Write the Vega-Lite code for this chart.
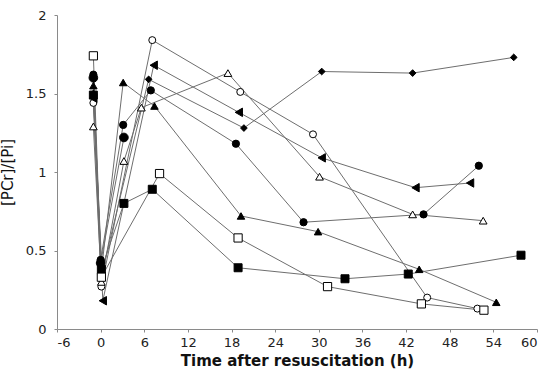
{
  "$schema": "https://vega.github.io/schema/vega-lite/v6.json",
  "autosize": "none",
  "padding": {"left": 57, "top": 15, "right": 10, "bottom": 46},
  "width": 480,
  "height": 314,
  "background": "white",
  "config": {
    "view": {"stroke": null},
    "axis": {
      "grid": false,
      "domainColor": "#8a8a8a",
      "tickColor": "#8a8a8a",
      "labelColor": "#222",
      "labelFont": "DejaVu Sans",
      "labelFontSize": 13,
      "titleFont": "DejaVu Sans",
      "titleColor": "#111",
      "titleFontSize": 15
    }
  },
  "data": {
    "values": [
      {"series": "S1", "t": -1.0, "v": 1.50}, {"series": "S1", "t": 0.2, "v": 0.36}, {"series": "S1", "t": 6.6, "v": 1.59}, {"series": "S1", "t": 19.7, "v": 1.28}, {"series": "S1", "t": 30.4, "v": 1.64}, {"series": "S1", "t": 42.9, "v": 1.63}, {"series": "S1", "t": 56.8, "v": 1.73},
      {"series": "S2", "t": -1.0, "v": 1.44}, {"series": "S2", "t": 0.1, "v": 0.27}, {"series": "S2", "t": 7.1, "v": 1.84}, {"series": "S2", "t": 19.2, "v": 1.51}, {"series": "S2", "t": 29.2, "v": 1.24}, {"series": "S2", "t": 44.9, "v": 0.20}, {"series": "S2", "t": 51.8, "v": 0.13},
      {"series": "S3", "t": -1.0, "v": 1.62}, {"series": "S3", "t": 0.0, "v": 0.44}, {"series": "S3", "t": 3.1, "v": 1.30}, {"series": "S3", "t": 6.9, "v": 1.52}, {"series": "S3", "t": 18.6, "v": 1.18}, {"series": "S3", "t": 27.9, "v": 0.68}, {"series": "S3", "t": 44.4, "v": 0.73}, {"series": "S3", "t": 52.0, "v": 1.04},
      {"series": "S4", "t": -1.0, "v": 1.55}, {"series": "S4", "t": 0.1, "v": 0.37}, {"series": "S4", "t": 3.1, "v": 1.57}, {"series": "S4", "t": 7.4, "v": 1.42}, {"series": "S4", "t": 19.3, "v": 0.72}, {"series": "S4", "t": 29.9, "v": 0.62}, {"series": "S4", "t": 43.8, "v": 0.38}, {"series": "S4", "t": 54.4, "v": 0.17},
      {"series": "S5", "t": -1.0, "v": 1.29}, {"series": "S5", "t": 0.1, "v": 0.30}, {"series": "S5", "t": 3.2, "v": 1.07}, {"series": "S5", "t": 5.6, "v": 1.41}, {"series": "S5", "t": 17.5, "v": 1.63}, {"series": "S5", "t": 30.1, "v": 0.97}, {"series": "S5", "t": 42.9, "v": 0.73}, {"series": "S5", "t": 52.6, "v": 0.69},
      {"series": "S6", "t": -1.0, "v": 1.49}, {"series": "S6", "t": 0.1, "v": 0.38}, {"series": "S6", "t": 3.2, "v": 0.80}, {"series": "S6", "t": 7.1, "v": 0.89}, {"series": "S6", "t": 18.9, "v": 0.39}, {"series": "S6", "t": 33.6, "v": 0.32}, {"series": "S6", "t": 42.3, "v": 0.35}, {"series": "S6", "t": 57.8, "v": 0.47},
      {"series": "S7", "t": -1.0, "v": 1.74}, {"series": "S7", "t": 0.1, "v": 0.33}, {"series": "S7", "t": 8.1, "v": 0.99}, {"series": "S7", "t": 18.9, "v": 0.58}, {"series": "S7", "t": 31.2, "v": 0.27}, {"series": "S7", "t": 44.1, "v": 0.16}, {"series": "S7", "t": 52.7, "v": 0.12},
      {"series": "S8", "t": -1.0, "v": 1.47}, {"series": "S8", "t": 0.3, "v": 0.18}, {"series": "S8", "t": 7.3, "v": 1.68}, {"series": "S8", "t": 19.0, "v": 1.38}, {"series": "S8", "t": 30.4, "v": 1.09}, {"series": "S8", "t": 43.3, "v": 0.90}, {"series": "S8", "t": 50.8, "v": 0.93},
      {"series": "S9", "t": -1.0, "v": 1.60}, {"series": "S9", "t": 0.0, "v": 0.42}, {"series": "S9", "t": 3.2, "v": 1.22}
    ]
  },
  "encoding": {
    "x": {
      "field": "t", "type": "quantitative",
      "scale": {"domain": [-6, 60], "nice": false, "zero": false},
      "axis": {"values": [-6, 0, 6, 12, 18, 24, 30, 36, 42, 48, 54, 60], "labelExpr": "datum.value < 0 ? '-' + abs(datum.value) : datum.label", "tickSize": 3, "labelPadding": 4, "title": "Time after resuscitation (h)", "titleFontWeight": "bold", "titlePadding": 4}
    },
    "y": {
      "field": "v", "type": "quantitative",
      "scale": {"domain": [0, 2], "nice": false},
      "axis": {"values": [0, 0.5, 1, 1.5, 2], "format": "~g", "tickSize": 3, "labelPadding": 8, "title": "[PCr]/[Pi]", "titleFontWeight": "normal", "titlePadding": 10}
    }
  },
  "layer": [
    {
      "mark": {"type": "line", "color": "#6e6e6e", "strokeWidth": 1},
      "encoding": {"detail": {"field": "series"}, "order": {"field": "t", "type": "quantitative"}}
    },
    {
      "mark": {"type": "point", "filled": true, "stroke": "black", "strokeWidth": 1, "opacity": 1},
      "encoding": {
        "shape": {"field": "series", "type": "nominal", "legend": null,
          "scale": {"domain": ["S1","S2","S3","S4","S5","S6","S7","S8","S9"], "range": ["diamond","circle","circle","triangle-up","triangle-up","square","square","triangle-left","circle"]}},
        "fill": {"field": "series", "type": "nominal", "legend": null,
          "scale": {"domain": ["S1","S2","S3","S4","S5","S6","S7","S8","S9"], "range": ["black","white","black","black","white","black","white","black","black"]}},
        "size": {"field": "series", "type": "nominal", "legend": null,
          "scale": {"domain": ["S1","S2","S3","S4","S5","S6","S7","S8","S9"], "range": [45, 75, 75, 70, 70, 75, 75, 70, 75]}}
      }
    }
  ]
}
